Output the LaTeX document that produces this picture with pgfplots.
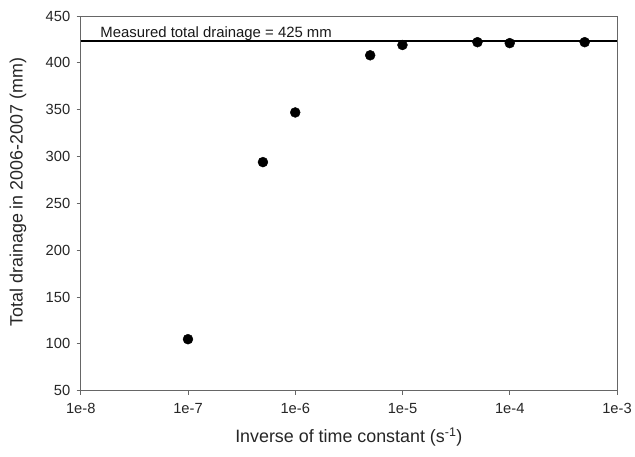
\documentclass[border=0pt]{standalone}
\usepackage{pgfplots}
\pgfplotsset{compat=1.18}
\usepackage{fontspec}
\setmainfont{Liberation Sans}
\begin{document}
\begin{tikzpicture}[x=1bp,y=1bp]
\begin{axis}[
  scale only axis,
  width=538bp, height=376bp,
  xmode=log,
  xmin=1e-8, xmax=1e-3,
  ymin=50, ymax=450,
  xtick={1e-8,1e-7,1e-6,1e-5,1e-4,1e-3},
  xticklabels={1e-8,1e-7,1e-6,1e-5,1e-4,1e-3},
  ytick={50,100,...,450},
  xminorticks=false,
  axis line style={black!60, line width=0.8bp},
  tick style={black!60, line width=0.8bp},
  tick align=outside,
  major tick length=4bp,
  xtick pos=bottom, ytick pos=left,
  /pgf/number format/assume math mode=true,
  ticklabel style={font=\fontsize{14.8}{16}\selectfont, text=black!85},
  xticklabel style={yshift=-5bp},
  yticklabel style={xshift=-3bp},
  xlabel={Inverse of time constant (s\textsuperscript{-1})},
  ylabel={Total drainage in 2006-2007 (mm)},
  every axis x label/.style={at={(axis description cs:0.5,-0.124)}, anchor=center, font=\fontsize{18}{20}\selectfont, text=black!85},
  every axis y label/.style={at={(axis description cs:-0.117,0.53)}, rotate=90, anchor=center, font=\fontsize{18}{20}\selectfont, text=black!85},
  clip=false,
]
\addplot[black, line width=1.5bp] coordinates {(1e-8,423) (1e-3,423)};
\addplot[only marks, mark=*, mark size=5bp, black] coordinates {
(1e-7,105) (5e-7,294) (1e-6,347) (5e-6,408) (1e-5,419) (5e-5,422) (1e-4,421) (5e-4,422)
};
\node[anchor=base west, font=\fontsize{15}{17}\selectfont, text=black!90, inner sep=0pt] at (axis cs:1.52e-8,426.8) {Measured total drainage = 425 mm};
\end{axis}
\path[use as bounding box] (-81bp,-66bp) rectangle (554bp,392bp);
\end{tikzpicture}
\end{document}
